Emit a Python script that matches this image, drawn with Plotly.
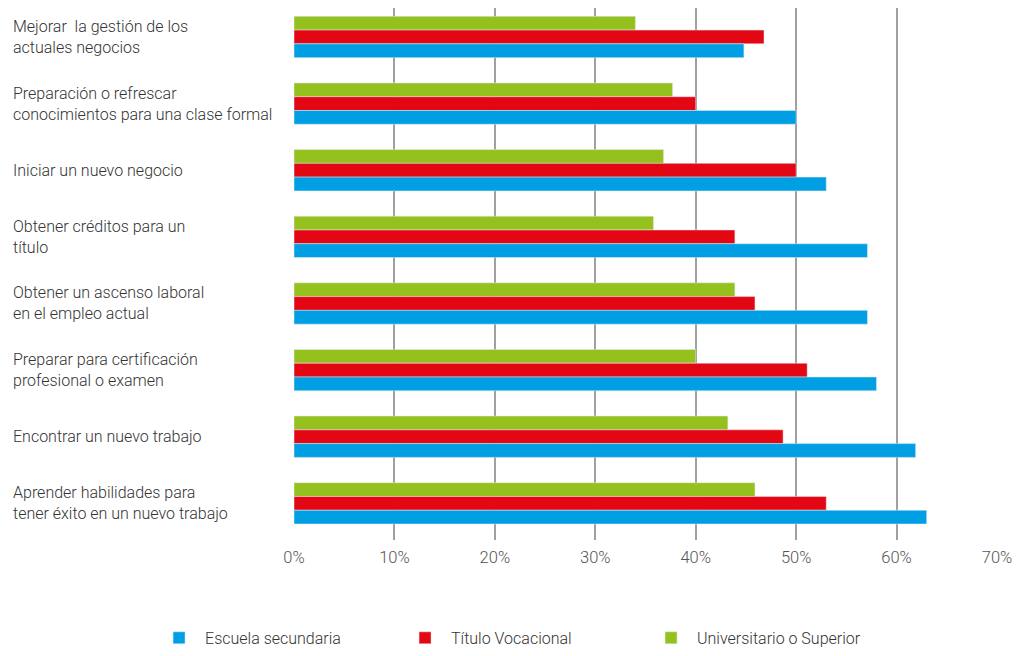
import plotly.graph_objects as go

# Reasons for taking a course, share of respondents by education level
categories = [
    "Mejorar  la gestión de los<br>actuales negocios",
    "Preparación o refrescar<br>conocimientos para una clase formal",
    "Iniciar un nuevo negocio",
    "Obtener créditos para un<br>título",
    "Obtener un ascenso laboral<br>en el empleo actual",
    "Preparar para certificación<br>profesional o examen",
    "Encontrar un nuevo trabajo",
    "Aprender habilidades para<br>tener éxito en un nuevo trabajo",
]
secundaria = [44.8, 50.0, 53.0, 57.1, 57.1, 58.0, 61.9, 63.0]
vocacional = [46.8, 40.0, 50.0, 43.9, 45.9, 51.1, 48.7, 53.0]
superior = [34.0, 37.7, 36.8, 35.8, 43.9, 40.0, 43.2, 45.9]

x_ticks = [0, 10, 20, 30, 40, 50, 60, 70]
x_tick_labels = [f"{v}%" for v in x_ticks]

FONT = "Roboto, sans-serif"
LABEL_FONT = dict(family=FONT, size=16, color="#333333", weight=300)

fig = go.Figure()
# Added top-to-bottom within each group; legend order is reversed below
fig.add_trace(go.Bar(y=categories, x=superior, name="Universitario o Superior",
                     orientation="h", marker_color="#95C11F"))
fig.add_trace(go.Bar(y=categories, x=vocacional, name="Título Vocacional",
                     orientation="h", marker_color="#E30613"))
fig.add_trace(go.Bar(y=categories, x=secundaria, name="Escuela secundaria",
                     orientation="h", marker_color="#009FE3"))

# Left-aligned category labels
for cat in categories:
    fig.add_annotation(x=0, xref="paper", xshift=-283, y=cat, yref="y",
                       text=cat, showarrow=False, xanchor="left", yanchor="middle",
                       align="left", font=LABEL_FONT)

fig.update_layout(
    width=1018, height=656,
    margin=dict(l=294, r=21, t=8, b=116, autoexpand=False),
    paper_bgcolor="white", plot_bgcolor="white",
    barmode="group", bargap=0.38, bargroupgap=0,
    font=dict(family=FONT, size=16, color="#555555"),
    xaxis=dict(range=[0, 70], tickvals=x_ticks, ticktext=x_tick_labels,
               showgrid=True, gridcolor="#a0a0a0", gridwidth=2,
               zeroline=False, showline=False, ticks="", ticklabelstandoff=5,
               tickfont=dict(family=FONT, size=16.5, color="#555555", weight=300)),
    yaxis=dict(categoryorder="array", categoryarray=categories,
               range=[7.55, -0.435], showticklabels=False,
               showgrid=False, zeroline=False, showline=False),
    legend=dict(orientation="h", traceorder="reversed",
                x=-0.2005, xref="paper", xanchor="left",
                y=-0.184, yref="paper", yanchor="middle",
                itemwidth=42, entrywidth=189, entrywidthmode="pixels",
                font=LABEL_FONT),
    showlegend=True,
)

fig.write_html("out.html")
